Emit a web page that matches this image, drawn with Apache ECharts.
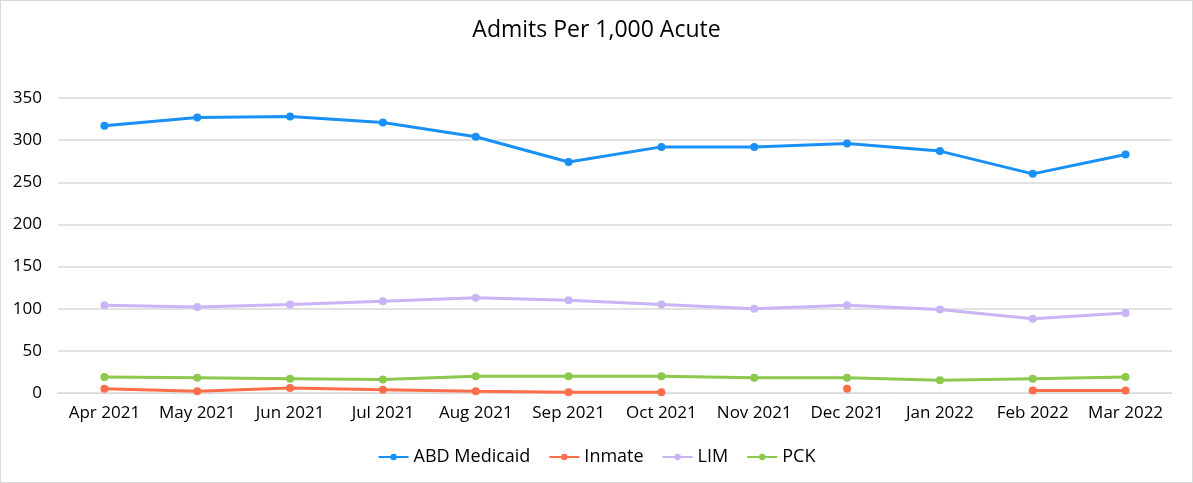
<!DOCTYPE html>
<html>
<head>
<meta charset="utf-8">
<script src="https://cdn.jsdelivr.net/npm/echarts@6/dist/echarts.min.js"></script>
<style>
  html, body { margin: 0; padding: 0; background: #fff; }
  #chart { width: 1191px; height: 481px; border: 1px solid #d9d9d9; }
</style>
</head>
<body>
<div id="chart"></div>
<script>
const months = ['Apr 2021', 'May 2021', 'Jun 2021', 'Jul 2021', 'Aug 2021', 'Sep 2021',
  'Oct 2021', 'Nov 2021', 'Dec 2021', 'Jan 2022', 'Feb 2022', 'Mar 2022']
const abdMedicaid = [317, 327, 328, 321, 304, 274, 292, 292, 296, 287, 260, 283]
const inmate = [5, 2, 6, 4, 2, 1, 1, null, 5, null, 3, 3]
const lim = [104, 102, 105, 109, 113, 110, 105, 100, 104, 99, 88, 95]
const pck = [19, 18, 17, 16, 20, 20, 20, 18, 18, 15, 17, 19]

const font = '"Open Sans", "Noto Sans", sans-serif'

const chart = echarts.init(document.getElementById('chart'))

function line(name, data, color) {
  return {
    name: name,
    type: 'line',
    data: data,
    symbol: 'circle',
    symbolSize: 8,
    showSymbol: true,
    connectNulls: false,
    lineStyle: { width: 3, color: color },
    itemStyle: { color: color },
    animation: false
  }
}

chart.setOption({
  textStyle: { fontFamily: font },
  title: {
    text: 'Admits Per 1,000 Acute',
    left: 'center',
    top: 13,
    textStyle: { fontSize: 23, fontWeight: 'normal', color: '#000', fontFamily: font }
  },
  legend: {
    bottom: 11,
    itemGap: 18,
    itemWidth: 30,
    itemHeight: 8,
    textStyle: { fontSize: 18, color: '#000', fontFamily: font },
    data: ['ABD Medicaid', 'Inmate', 'LIM', 'PCK']
  },
  grid: { left: 57, right: 20, top: 97, bottom: 89 },
  xAxis: {
    type: 'category',
    data: months,
    axisLine: { lineStyle: { color: '#d9d9d9' } },
    axisTick: { show: false },
    axisLabel: { fontSize: 17, color: '#000', margin: 12, fontFamily: font, interval: 0 }
  },
  yAxis: {
    type: 'value',
    min: 0,
    max: 350,
    interval: 50,
    axisLine: { show: false },
    axisTick: { show: false },
    axisLabel: { fontSize: 17, color: '#000', margin: 16, fontFamily: font },
    splitLine: { lineStyle: { color: '#d9d9d9', width: 1.5 } }
  },
  series: [
    line('ABD Medicaid', abdMedicaid, '#1890f5'),
    line('Inmate', inmate, '#ff6e4a'),
    line('LIM', lim, '#c9b4f5'),
    line('PCK', pck, '#8cc84b')
  ]
})
</script>
</body>
</html>
